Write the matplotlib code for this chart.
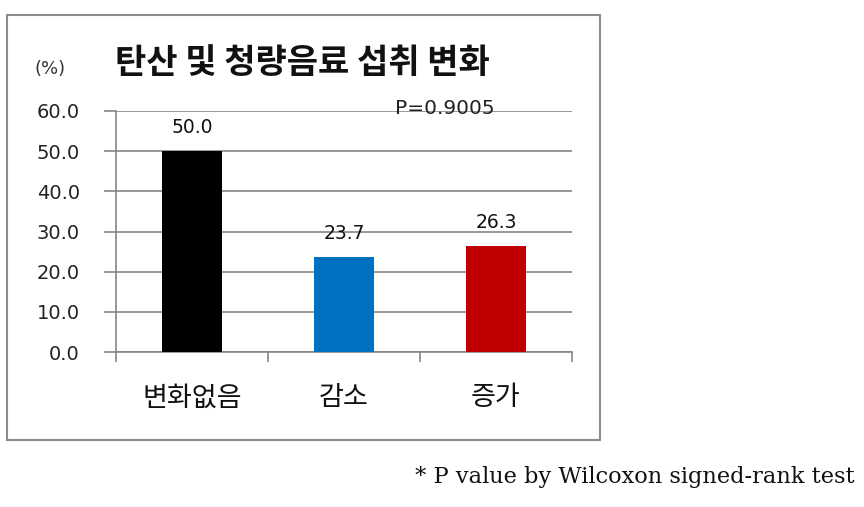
import matplotlib
matplotlib.use("Agg")
import matplotlib.pyplot as plt
from matplotlib.patches import Rectangle

categories = ["변화없음", "감소", "증가"]
values = [50.0, 23.7, 26.3]
colors = ["#000000", "#0070C0", "#C00000"]
yticks = [0, 10, 20, 30, 40, 50, 60]
title = "탄산 및 청량음료 섭취 변화"
p_text = "P=0.9005"
footnote = "* P value by Wilcoxon signed-rank test"

KR = ["Noto Sans CJK KR", "DejaVu Sans"]
GRID = "#868686"

fig = plt.figure(figsize=(8.64, 5.07), dpi=100)
W, H = 864, 507

# outer chart frame
fig.patches.append(Rectangle((7 / W, 1 - 440 / H), (600 - 7) / W, (440 - 15) / H,
                             transform=fig.transFigure, fill=False,
                             edgecolor="#8c8c8c", linewidth=1.5))

ax = fig.add_axes([116 / W, 1 - 352 / H, (572 - 116) / W, (352 - 111) / H])
x = list(range(len(categories)))
ax.bar(x, values, width=0.4, color=colors, zorder=3)
ax.set_xlim(-0.5, 2.5)
ax.set_ylim(0, 60)
ax.set_yticks(yticks)
ax.set_yticklabels([f"{v:.1f}" for v in yticks], fontsize=14, color="#222222")
ax.yaxis.grid(True, color=GRID, linewidth=1.2, zorder=0)
ax.set_axisbelow(True)
ax.tick_params(axis="y", length=9, width=1.2, color=GRID, pad=17)
ax.set_xticks([-0.5, 0.5, 1.5, 2.5])
ax.set_xticklabels([])
ax.tick_params(axis="x", length=7, width=1.2, color=GRID)
for i, c in enumerate(categories):
    ax.annotate(c, (i, 0), xytext=(0, -33), textcoords="offset points",
                ha="center", va="center", fontsize=19.5, family=KR,
                color="#111111")
for s in ["top", "right"]:
    ax.spines[s].set_visible(False)
for s in ["left", "bottom"]:
    ax.spines[s].set_color(GRID)
    ax.spines[s].set_linewidth(1.2)

for i, v in enumerate(values):
    ax.annotate(f"{v:.1f}", (i, v), xytext=(0, 17), textcoords="offset points",
                ha="center", va="center", fontsize=13.5, color="#111111")

ax.annotate(p_text, (1.5, 60), xytext=(18, 2), textcoords="offset points",
            ha="center", va="center", fontsize=14.5, color="#222222",
            annotation_clip=False)

fig.text(115 / W, 1 - 63 / H, title, ha="left", va="center", fontsize=24.5,
         fontweight="bold", family=KR, color="#111111")
fig.text(35 / W, 1 - 69 / H, "(%)", ha="left", va="center", fontsize=13,
         color="#333333")
fig.text(855 / W, 1 - 477 / H, footnote, ha="right", va="center", fontsize=16.2,
         family="DejaVu Serif", color="#111111")

fig.savefig("out.png", dpi=100)
